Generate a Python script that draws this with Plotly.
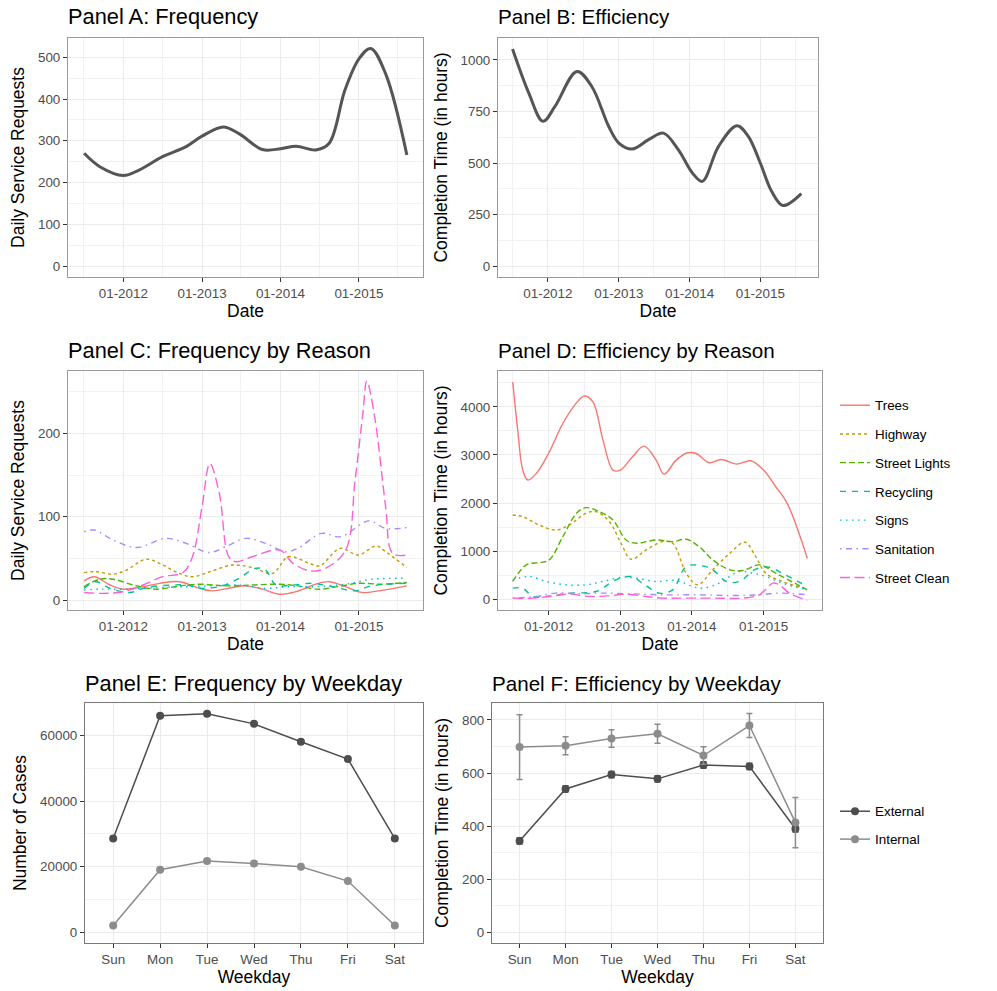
import pandas as pd
import plotly.graph_objects as go

# ---------------- data ----------------
# Panel A: smoothed daily service requests (decimal year, value)
freq_t = [2011.5, 2011.7, 2012.0, 2012.2, 2012.5, 2012.8, 2013.0, 2013.27, 2013.47, 2013.77,
          2014.0, 2014.2, 2014.45, 2014.62, 2014.82, 2015.0, 2015.15, 2015.34, 2015.61]
freq_v = [270, 238, 217, 230, 262, 286, 311, 333, 317, 279,
          281, 287, 278, 294, 421, 496, 521, 460, 266]

# Panel B: smoothed completion time in hours
eff_t = [2011.5, 2011.73, 2011.93, 2012.1, 2012.41, 2012.62, 2012.86, 2013.0, 2013.19, 2013.42,
         2013.63, 2013.84, 2014.04, 2014.18, 2014.41, 2014.67, 2014.83, 2015.0, 2015.16, 2015.32, 2015.58]
eff_v = [1053, 839, 702, 774, 944, 871, 677, 597, 568, 613,
         645, 565, 452, 411, 581, 681, 629, 500, 363, 294, 352]

reasons = ["Trees", "Highway", "Street Lights", "Recycling", "Signs", "Sanitation", "Street Clean"]
reason_colors = ["#F8766D", "#C49A00", "#53B400", "#00C094", "#00B6EB", "#A58AFF", "#FB61D7"]
reason_dashes = ["solid", "3px,3px", "6px,3px", "6px,6px", "1.5px,4.5px",
                 "1.5px,4.5px,6px,4.5px", "10px,4.5px"]

# Panel C: daily requests by reason
freq_reason_t = {
    "Trees": [2011.5, 2011.63, 2011.83, 2012.0, 2012.25, 2012.46, 2012.72, 2012.97, 2013.13, 2013.39,
              2013.56, 2013.77, 2013.98, 2014.2, 2014.45, 2014.62, 2014.83, 2015.04, 2015.25, 2015.61],
    "Highway": [2011.5, 2011.65, 2011.87, 2012.04, 2012.29, 2012.5, 2012.71, 2012.88, 2013.13, 2013.39,
                2013.64, 2013.9, 2014.1, 2014.37, 2014.5, 2014.76, 2014.99, 2015.22, 2015.34, 2015.61],
    "Street Lights": [2011.5, 2011.7, 2011.87, 2012.13, 2012.42, 2012.72, 2012.97, 2013.3, 2013.64,
                      2013.98, 2014.22, 2014.48, 2014.73, 2014.99, 2015.29, 2015.61],
    "Recycling": [2011.5, 2011.65, 2011.83, 2012.08, 2012.29, 2012.63, 2012.8, 2013.0, 2013.26, 2013.47,
                  2013.68, 2013.81, 2013.94, 2014.15, 2014.4, 2014.66, 2014.95, 2015.12, 2015.34, 2015.61],
    "Signs": [2011.5, 2011.7, 2012.04, 2012.46, 2012.8, 2013.13, 2013.47, 2013.81, 2014.1, 2014.45,
              2014.83, 2015.17, 2015.61],
    "Sanitation": [2011.5, 2011.63, 2011.87, 2012.17, 2012.54, 2012.8, 2013.09, 2013.3, 2013.56, 2013.81,
                   2014.06, 2014.22, 2014.52, 2014.77, 2015.12, 2015.34, 2015.61],
    "Street Clean": [2011.5, 2011.74, 2012.0, 2012.25, 2012.5, 2012.76, 2012.88, 2013.0, 2013.1, 2013.22,
                     2013.34, 2013.43, 2013.64, 2013.99, 2014.16, 2014.37, 2014.57, 2014.83, 2014.95,
                     2015.05, 2015.1, 2015.2, 2015.34, 2015.43, 2015.61],
}
freq_reason_v = {
    "Trees": [23, 28, 18, 13, 16, 20, 22, 14, 11, 15, 17, 13, 7, 10, 19, 22, 16, 9, 11, 17],
    "Highway": [33, 34, 31, 36, 49, 42, 32, 28, 35, 42, 39, 32, 52, 44, 41, 62, 54, 65, 58, 39],
    "Street Lights": [16, 25, 25, 18, 13, 17, 19, 17, 18, 19, 17, 13, 16, 20, 19, 21],
    "Recycling": [14, 22, 14, 9, 15, 18, 18, 14, 17, 26, 38, 36, 18, 18, 20, 16, 11, 16, 19, 20],
    "Signs": [12, 13, 13, 15, 16, 17, 18, 14, 16, 16, 19, 25, 26],
    "Sanitation": [82, 84, 72, 63, 74, 68, 57, 64, 74, 68, 58, 62, 80, 76, 95, 86, 87],
    "Street Clean": [9, 8, 10, 18, 28, 33, 52, 112, 164, 128, 52, 46, 52, 60, 44, 35, 38, 60, 144,
                     224, 263, 220, 112, 56, 54],
}

# Panel D: completion time by reason
eff_reason_t = {
    "Trees": [2011.5, 2011.57, 2011.64, 2011.71, 2011.83, 2012.0, 2012.2, 2012.39, 2012.5, 2012.62,
              2012.76, 2012.9, 2013.0, 2013.17, 2013.33, 2013.5, 2013.61, 2013.78, 2013.94, 2014.06,
              2014.24, 2014.41, 2014.62, 2014.82, 2015.0, 2015.17, 2015.33, 2015.61],
    "Highway": [2011.5, 2011.64, 2011.87, 2012.1, 2012.29, 2012.52, 2012.66, 2012.85, 2013.01, 2013.15,
                2013.36, 2013.59, 2013.73, 2013.92, 2014.08, 2014.29, 2014.53, 2014.74, 2014.89,
                2015.03, 2015.26, 2015.61],
    "Street Lights": [2011.5, 2011.69, 2011.87, 2012.01, 2012.2, 2012.39, 2012.52, 2012.71, 2012.9,
                      2013.08, 2013.22, 2013.5, 2013.73, 2013.92, 2014.1, 2014.29, 2014.53, 2014.71,
                      2014.94, 2015.17, 2015.61],
    "Recycling": [2011.5, 2011.64, 2011.78, 2011.97, 2012.29, 2012.66, 2012.94, 2013.15, 2013.31,
                  2013.54, 2013.73, 2013.92, 2014.15, 2014.29, 2014.48, 2014.66, 2014.89, 2015.08,
                  2015.26, 2015.61],
    "Signs": [2011.5, 2011.73, 2011.97, 2012.25, 2012.52, 2012.76, 2013.03, 2013.22, 2013.5, 2013.78,
              2014.01, 2014.15, 2014.38, 2014.66, 2014.85, 2015.03, 2015.26, 2015.61],
    "Sanitation": [2011.5, 2011.83, 2012.1, 2012.43, 2012.76, 2013.13, 2013.59, 2014.06, 2014.53,
                   2014.94, 2015.22, 2015.61],
    "Street Clean": [2011.5, 2011.78, 2012.01, 2012.29, 2012.57, 2012.85, 2013.08, 2013.36, 2013.59,
                     2013.87, 2014.29, 2014.71, 2014.94, 2015.13, 2015.22, 2015.36, 2015.61],
}
eff_reason_v = {
    "Trees": [4519, 3516, 2685, 2478, 2616, 3031, 3654, 4083, 4228, 4104, 3308, 2685, 2685, 2962,
              3183, 2893, 2602, 2893, 3045, 3031, 2837, 2907, 2810, 2879, 2685, 2339, 1993, 851],
    "Highway": [1751, 1716, 1543, 1439, 1543, 1785, 1820, 1612, 1163, 830, 1024, 1197, 1163, 540,
                298, 609, 955, 1183, 886, 540, 367, 208],
    "Street Lights": [367, 713, 761, 817, 1301, 1785, 1903, 1820, 1647, 1232, 1163, 1232, 1197, 1246,
                      1093, 817, 609, 595, 713, 540, 194],
    "Recycling": [228, 228, 55, 55, 125, 159, 401, 471, 332, 125, 194, 678, 692, 609, 367, 367, 623,
                  664, 540, 263],
    "Signs": [401, 471, 367, 298, 298, 367, 457, 436, 367, 388, 263, 228, 332, 574, 540, 471, 332, 194],
    "Sanitation": [21, 55, 125, 111, 125, 111, 90, 90, 76, 90, 125, 90],
    "Street Clean": [21, 21, 55, 104, 55, 69, 104, 55, 21, 21, 21, 21, 90, 332, 298, 125, -28],
}

# Panels E / F: weekday summaries
weekdays = ["Sun", "Mon", "Tue", "Wed", "Thu", "Fri", "Sat"]
cases_external = [28600, 66100, 66700, 63650, 58200, 52900, 28600]
cases_internal = [2000, 19050, 21700, 21000, 20000, 15600, 2000]
time_external = [344, 540, 594, 578, 630, 625, 390]
time_internal = [698, 703, 730, 748, 666, 779, 413]
time_external_err = [12, 12, 12, 12, 12, 12, 12]
time_internal_err = [122, 34, 33, 36, 33, 45, 95]

date_ticks = ["2012-01-01", "2013-01-01", "2014-01-01", "2015-01-01"]
date_tick_text = ["01-2012", "01-2013", "01-2014", "01-2015"]

# ---------------- helpers ----------------
W, H = 997, 991
DARK = "#4D4D4D"
LIGHT = "#8C8C8C"


def to_date(years):
    out = []
    for y in years:
        yr = int(y)
        out.append(pd.Timestamp(year=yr, month=1, day=1) + pd.Timedelta(days=(y - yr) * 365.25))
    return out


def xdom(left, right):
    return [left / W, right / W]


def ydom(top, bottom):
    return [1 - bottom / H, 1 - top / H]


x_lo = to_date([2011.2945])[0]
x_hi = to_date([2015.8155])[0]


def base_axis(border):
    return dict(
        showline=True, mirror=True, linecolor=border, linewidth=1,
        ticks="outside", ticklen=4, tickcolor="#333333", tickwidth=1,
        showgrid=True, gridcolor="#EBEBEB", gridwidth=1.3,
        zeroline=False,
        tickfont=dict(size=13.4, color=DARK),
        title_font=dict(size=17.5, color="black"),
    )


def date_axis(dom, anchor, border="#9A9A9A"):
    ax = base_axis(border)
    ax.update(
        domain=dom, anchor=anchor, type="date", range=[x_lo, x_hi],
        tickvals=date_ticks, ticktext=date_tick_text,
        minor=dict(dtick="M6", tick0="2011-07-01", showgrid=True, gridcolor="#F2F2F2", gridwidth=0.7),
        title=dict(text="Date", standoff=4),
    )
    return ax


def value_axis(dom, anchor, rng, dtick, title, border="#9A9A9A"):
    ax = base_axis(border)
    ax.update(
        domain=dom, anchor=anchor, range=rng, dtick=dtick, tick0=0, tickformat="d",
        minor=dict(dtick=dtick / 2, showgrid=True, gridcolor="#F2F2F2", gridwidth=0.7),
        title=dict(text=title, standoff=8),
    )
    return ax


def cat_axis(dom, anchor, border="#7A7A7A"):
    ax = base_axis(border)
    ax.update(
        domain=dom, anchor=anchor, type="category", categoryorder="array",
        categoryarray=weekdays, range=[-0.6, 6.6],
        title=dict(text="Weekday", standoff=4),
    )
    return ax


fig = go.Figure()

# Panel A
fig.add_trace(go.Scatter(x=to_date(freq_t), y=freq_v, mode="lines", line=dict(color="#555555", width=3,
                         shape="spline", smoothing=1.0), xaxis="x", yaxis="y", showlegend=False))
# Panel B
fig.add_trace(go.Scatter(x=to_date(eff_t), y=eff_v, mode="lines", line=dict(color="#555555", width=3,
                         shape="spline", smoothing=1.0), xaxis="x2", yaxis="y2", showlegend=False))

# Panels C and D
for name, col, dash in zip(reasons, reason_colors, reason_dashes):
    fig.add_trace(go.Scatter(x=to_date(freq_reason_t[name]), y=freq_reason_v[name], mode="lines",
                             line=dict(color=col, width=1.4, dash=dash, shape="spline", smoothing=1.0),
                             xaxis="x3", yaxis="y3", showlegend=False))
for name, col, dash in zip(reasons, reason_colors, reason_dashes):
    fig.add_trace(go.Scatter(x=to_date(eff_reason_t[name]), y=eff_reason_v[name], mode="lines", name=name,
                             line=dict(color=col, width=1.4, dash=dash, shape="spline", smoothing=1.0),
                             xaxis="x4", yaxis="y4", legend="legend", legendgroup=name))

# Panel E
for vals, col, name in [(cases_external, DARK, "External"), (cases_internal, LIGHT, "Internal")]:
    fig.add_trace(go.Scatter(x=weekdays, y=vals, mode="lines+markers", line=dict(color=col, width=1.5),
                             marker=dict(color=col, size=8), xaxis="x5", yaxis="y5", showlegend=False))

# Panel F
for vals, err, col, name in [(time_external, time_external_err, DARK, "External"),
                             (time_internal, time_internal_err, LIGHT, "Internal")]:
    fig.add_trace(go.Scatter(x=weekdays, y=vals, mode="lines+markers", name=name,
                             line=dict(color=col, width=1.5), marker=dict(color=col, size=8),
                             error_y=dict(type="data", array=err, color=col, thickness=1.5, width=3),
                             xaxis="x6", yaxis="y6", legend="legend2", legendgroup=name))

fig.update_layout(
    width=W, height=H,
    margin=dict(l=0, r=0, t=0, b=0),
    paper_bgcolor="white", plot_bgcolor="white",
    font=dict(family="Liberation Sans, Arial, sans-serif", color="black"),
    xaxis=date_axis(xdom(68, 423), "y"),
    yaxis=value_axis(ydom(38, 277), "x", [-26, 546], 100, "Daily Service Requests"),
    xaxis2=date_axis(xdom(498, 818), "y2"),
    yaxis2=value_axis(ydom(38, 277), "x2", [-52.5, 1106], 250, "Completion Time (in hours)"),
    xaxis3=date_axis(xdom(68, 423), "y3"),
    yaxis3=value_axis(ydom(371, 610), "x3", [-12, 275], 100, "Daily Service Requests"),
    xaxis4=date_axis(xdom(498, 822), "y4"),
    yaxis4=value_axis(ydom(371, 610), "x4", [-226, 4747], 1000, "Completion Time (in hours)"),
    xaxis5=cat_axis(xdom(85, 423), "y5"),
    yaxis5=value_axis(ydom(703, 943), "x5", [-3334, 70023], 20000, "Number of Cases", border="#7A7A7A"),
    xaxis6=cat_axis(xdom(492, 823), "y6"),
    yaxis6=value_axis(ydom(703, 943), "x6", [-41, 864], 200, "Completion Time (in hours)", border="#7A7A7A"),
    legend=dict(x=835 / W, y=1 - 390 / H, xanchor="left", yanchor="top", bgcolor="rgba(0,0,0,0)",
                font=dict(size=13.4), tracegroupgap=8.3, traceorder="grouped"),
    legend2=dict(x=835 / W, y=1 - 796 / H, xanchor="left", yanchor="top", bgcolor="rgba(0,0,0,0)",
                 font=dict(size=13.4), tracegroupgap=7.5, traceorder="grouped"),
)

titles = [("Panel A: Frequency", 68, 17, 21.8), ("Panel B: Efficiency", 498, 17, 20.6),
          ("Panel C: Frequency by Reason", 68, 350, 21.8), ("Panel D: Efficiency by Reason", 498, 350, 20.6),
          ("Panel E: Frequency by Weekday", 85, 683, 21.8), ("Panel F: Efficiency by Weekday", 492, 683, 20.6)]
for text, px, py, size in titles:
    fig.add_annotation(text=text, x=(px - 2) / W, y=1 - py / H, xref="paper", yref="paper",
                       xanchor="left", yanchor="middle", showarrow=False,
                       font=dict(size=size, color="black"))

fig.write_html("out.html")
